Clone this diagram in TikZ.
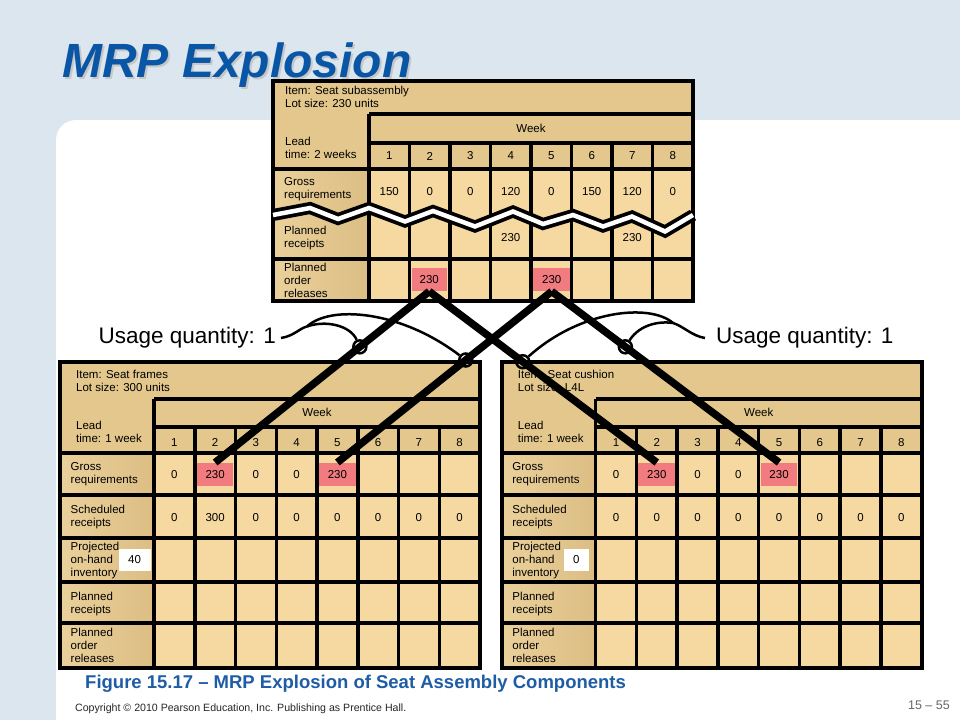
\documentclass[tikz,border=0pt]{standalone}
\usepackage{fontspec}
\setmainfont{Liberation Sans}
\definecolor{bgblue}{HTML}{DBE6EE}
\definecolor{tanD}{HTML}{E3C78C}
\definecolor{tanL}{HTML}{F5D9A1}
\definecolor{tanLabA}{HTML}{EAD09A}
\definecolor{tanLabB}{HTML}{DCBE84}
\definecolor{redc}{HTML}{F27B80}
\definecolor{titleblue}{HTML}{0A56A6}
\definecolor{capblue}{HTML}{1E5DA6}
\tikzset{
 gridline/.style={line width=3.5pt, black},
 outerbox/.style={line width=4pt, black},
 txt/.style={font=\fontsize{11.5}{13}\selectfont, inner sep=0pt, text=black},
 lab/.style={txt, align=left, anchor=west},
 num/.style={txt, anchor=center},
 redcell/.style={fill=redc, minimum width=36pt, minimum height=23pt, inner sep=0pt, font=\fontsize{11.5}{13}\selectfont},
 conn/.style={line width=7.5pt, black},
 callline/.style={line width=2.5pt, black},
 ring/.style={line width=2.5pt, black, circle, minimum size=13pt, inner sep=0pt, draw},
 usage/.style={font=\fontsize{22.5}{26}\selectfont, inner sep=0pt},
 labshade/.style={left color=tanLabA, right color=tanLabB},
}
% bottom table: #1 prefix, #2 xshift, #3 item text, #4 scheduled list, #5 box value, #6 box width
\newcommand{\mrpbot}[6]{%
\begin{scope}[xshift=#2]
\fill[tanD] (60,362) rectangle (480,668);
\fill[tanL] (154,453) rectangle (480,668);
\foreach \a/\b in {453/495,495/538,538/582,582/623,623/668}
  \shade[labshade] (60,\a) rectangle (154,\b);
\node[redcell, minimum width=36.7pt] (#1g2) at ({154+40.75*1.5},474.2) {230};
\node[redcell, minimum width=36.7pt] (#1g5) at ({154+40.75*4.5},474.2) {230};
\draw[gridline] (154,399) -- (480,399);
\draw[gridline] (154,427) -- (480,427);
\draw[gridline] (60,453) -- (480,453);
\foreach \y in {495,538,582,623} \draw[gridline] (60,\y) -- (480,\y);
\draw[gridline] (154,399) -- (154,668);
\foreach \i in {1,...,7} \draw[gridline] ({154+40.75*\i},427) -- ({154+40.75*\i},668);
\draw[outerbox] (60,362) rectangle (480,668);
\node[lab] (#1item) at (76,380.7) {#3};
\node[lab] (#1lead) at (76,432) {Lead\\time: 1 week};
\node[num] (#1week) at (317,412.5) {Week};
\foreach \i in {1,...,8} \node[num] (#1w\i) at ({154+40.75*(\i-0.5)},442.3) {\i};
\node[num] (#1g1) at ({154+40.75*0.5},474.2) {0};
\node[num] (#1g3) at ({154+40.75*2.5},474.2) {0};
\node[num] (#1g4) at ({154+40.75*3.5},474.2) {0};
\foreach \v [count=\i] in {#4} \node[num] (#1s\i) at ({154+40.75*(\i-0.5)},517.3) {\v};
\node[lab] (#1l1) at (70.5,474) {Gross\\requirements};
\node[lab] (#1l2) at (70.5,516.7) {Scheduled\\receipts};
\node[lab] (#1l3) at (70.5,560.3) {Projected\\on-hand\\inventory};
\node[lab] (#1l4) at (70.5,604) {Planned\\receipts};
\node[lab] (#1l5) at (70.5,645.3) {Planned\\order\\releases};
\node[txt, fill=white, minimum width=#6, minimum height=22pt] (#1box) at (134.5,560) {#5};
\end{scope}}
\begin{document}
\begin{tikzpicture}[x=1pt,y=-1pt]
\useasboundingbox (0,0) rectangle (960,720);
\fill[bgblue] (0,0) rectangle (960,720);
\fill[white, rounded corners=20pt] (56,120) rectangle (1000,760);
% title
\node[anchor=base west, font=\fontsize{48}{50}\selectfont\bfseries\itshape, text=black!22, inner sep=0pt] (titleshadow) at (64,79) {MRP Explosion};
\node[anchor=base west, font=\fontsize{48}{50}\selectfont\bfseries\itshape, text=titleblue, inner sep=0pt] (title) at (62,77) {MRP Explosion};
% top table
\fill[tanD] (273,81) rectangle (693,301);
\fill[tanL] (369,169) rectangle (693,301);
\shade[labshade] (273,169) rectangle (369,259);
\shade[labshade] (273,259) rectangle (369,301);
\node[redcell, minimum width=35pt] (T2) at (429.2,279.7) {230};
\node[redcell, minimum width=36.7pt] (T5) at (551.7,279.7) {230};
\draw[gridline] (369,114) -- (693,114);
\draw[gridline] (369,143) -- (693,143);
\draw[gridline] (273,169) -- (693,169);
\draw[gridline] (273,259) -- (693,259);
\draw[gridline] (369,114) -- (369,301);
\foreach \i in {1,...,7} \draw[gridline] ({369+40.5*\i},143) -- ({369+40.5*\i},301);
\draw[outerbox] (273,81) rectangle (693,301);
\draw[line width=12pt, black] (273,215) -- (310,208) -- (338,219) -- (369,208) -- (405,221.5) -- (433,211) -- (475,226.5) -- (513,211.5) -- (543,224) -- (573,215) -- (603,226.5) -- (632,216.5) -- (665,231.5) -- (693,215);
\draw[line width=4.5pt, white] (273,215) -- (310,208) -- (338,219) -- (369,208) -- (405,221.5) -- (433,211) -- (475,226.5) -- (513,211.5) -- (543,224) -- (573,215) -- (603,226.5) -- (632,216.5) -- (665,231.5) -- (693,215);
\node[lab] (Titem) at (285,96.5) {Item: Seat subassembly\\Lot size: 230 units};
\node[lab] (Tlead) at (285,148) {Lead\\time: 2 weeks};
\node[num] (Tweek) at (531,128.5) {Week};
\foreach \i in {1,...,8} \node[num] (Tw\i) at ({369+40.5*(\i-0.5)},156) {\i};
\foreach \v [count=\i] in {150,0,0,120,0,150,120,0} \node[num] (Tg\i) at ({369+40.5*(\i-0.5)},191.5) {\v};
\node[num] (Tp4) at ({369+40.5*3.5},238) {230};
\node[num] (Tp7) at ({369+40.5*6.5},238) {230};
\node[lab] (Tl1) at (284,189.5) {Gross\\requirements};
\node[lab] (Tl2) at (284,238.5) {Planned\\receipts};
\node[lab] (Tl3) at (284,280.5) {Planned\\order\\releases};
% bottom tables
\mrpbot{L}{0pt}{Item: Seat frames\\Lot size: 300 units}{0,300,0,0,0,0,0,0}{40}{32pt}
\mrpbot{R}{441.7pt}{Item: Seat cushion\\Lot size: L4L}{0,0,0,0,0,0,0,0}{0}{25pt}
% connectors
\draw[conn] (T2.south) -- (Lg2.north);
\draw[conn] (T2.south) -- (Rg2.north);
\draw[conn] (T5.south) -- (Lg5.north);
\draw[conn] (T5.south) -- (Rg5.north);
\path (T2.south) -- (Lg2.north) coordinate[pos=0.324] (cA);
\path (T5.south) -- (Lg5.north) coordinate[pos=0.401] (cB);
\path (T2.south) -- (Rg2.north) coordinate[pos=0.411] (cC);
\path (T5.south) -- (Rg5.north) coordinate[pos=0.324] (cD);
\node[ring] (rA) at (cA) {};
\node[ring] (rB) at (cB) {};
\node[ring] (rC) at (cC) {};
\node[ring] (rD) at (cD) {};
% usage labels
\node[usage, anchor=east] (uL) at (276,338) {Usage quantity: 1};
\node[usage, anchor=west] (uR) at (716,338) {Usage quantity: 1};
\draw[callline] ([xshift=5pt]uL.east) .. controls +(13,-2) and +(-7,1.5) .. (307,326.5) coordinate (jL);
\draw[callline] (jL) .. controls (330,305) and (400,310) .. (rB);
\draw[callline] (jL) .. controls (325,320) and (350,325) .. (rA);
\draw[callline] ([xshift=-11pt]uR.west) .. controls +(-13,-2) and +(10,3) .. (673,323) coordinate (jR);
\draw[callline] (jR) .. controls (650,303) and (580,310) .. (rC);
\draw[callline] (jR) .. controls (660,321) and (640,324) .. (rD);
% caption and footer
\node[anchor=west, font=\fontsize{18.5}{20}\selectfont\bfseries, text=capblue, inner sep=0pt] (cap) at (85,684) {Figure 15.17 – MRP Explosion of Seat Assembly Components};
\node[anchor=west, font=\fontsize{10.6}{12}\selectfont, text=black!85, inner sep=0pt] (copy) at (75,709) {Copyright © 2010 Pearson Education, Inc. Publishing as Prentice Hall.};
\node[anchor=east, font=\fontsize{12.5}{14}\selectfont, text=black!60, inner sep=0pt] (pg) at (950,705) {15 – 55};
\end{tikzpicture}
\end{document}
